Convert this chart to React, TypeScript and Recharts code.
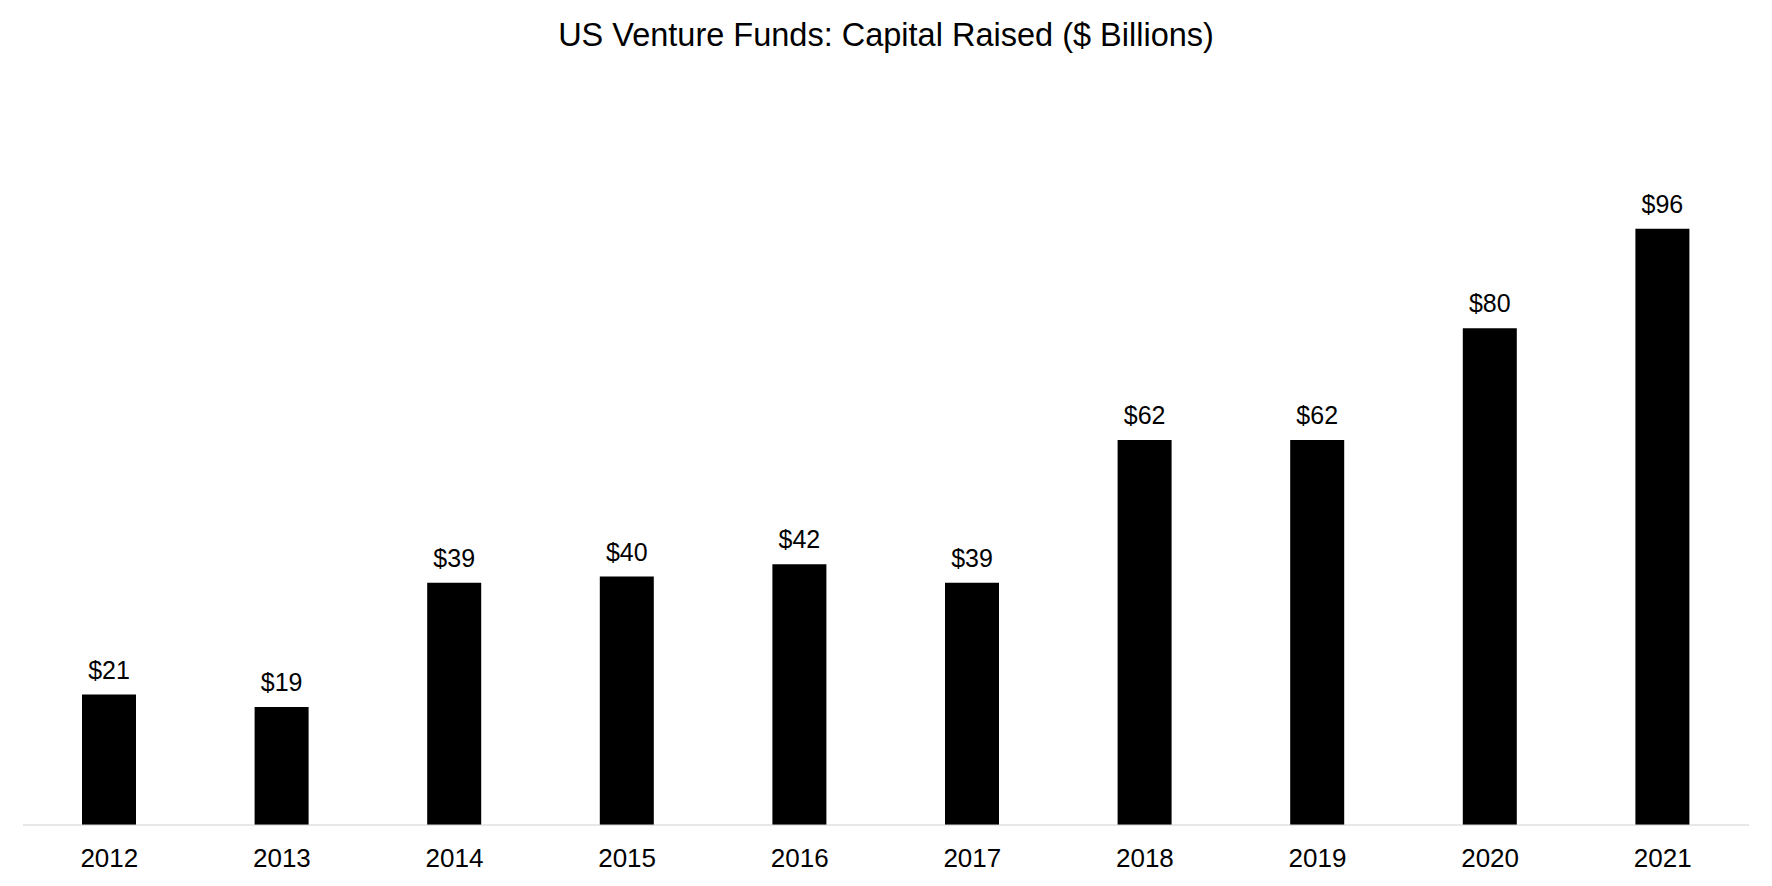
import { BarChart, Bar, XAxis, YAxis, LabelList } from "recharts";

const years = ["2012", "2013", "2014", "2015", "2016", "2017", "2018", "2019", "2020", "2021"];
const capitalRaised = [21, 19, 39, 40, 42, 39, 62, 62, 80, 96];

const data = years.map((year, i) => ({ year, value: capitalRaised[i] }));

const FONT = "'Liberation Sans', Arial, Helvetica, sans-serif";

export default function App() {
  return (
    <div
      style={{
        position: "absolute",
        left: 0,
        top: 0,
        width: 1772,
        height: 886,
        background: "#ffffff",
        fontFamily: FONT,
      }}
    >
      <div
        style={{
          position: "absolute",
          left: 0,
          top: 15,
          width: 1772,
          textAlign: "center",
          fontSize: 32.5,
          color: "#000",
          lineHeight: "40px",
        }}
      >
        US Venture Funds: Capital Raised ($ Billions)
      </div>
      <BarChart
        width={1772}
        height={886}
        data={data}
        margin={{ top: 204, right: 23, left: 23, bottom: 21 }}
      >
        <XAxis
          dataKey="year"
          axisLine={{ stroke: "#d0d0d0", strokeWidth: 1 }}
          tickLine={false}
          tickSize={0}
          tickMargin={24}
          height={40}
          interval={0}
          tick={{ fill: "#000", fontSize: 26, fontFamily: FONT }}
        />
        <YAxis hide domain={[0, 100]} />
        <Bar dataKey="value" fill="#000" barSize={54} isAnimationActive={false}>
          <LabelList
            dataKey="value"
            position="top"
            offset={16}
            formatter={(v: number) => `$${v}`}
            style={{ fill: "#000", fontSize: 25, fontFamily: FONT }}
          />
        </Bar>
      </BarChart>
    </div>
  );
}
